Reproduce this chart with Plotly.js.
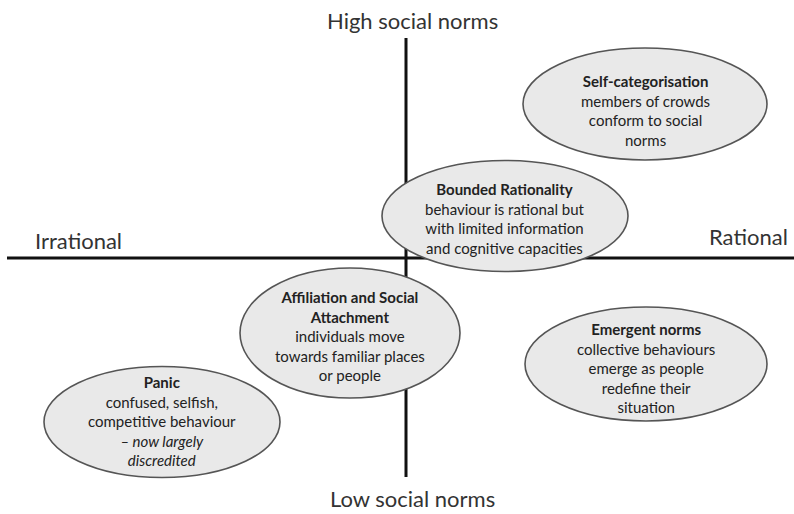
<!DOCTYPE html>
<html>
<head>
<meta charset="utf-8">
<script src="https://cdn.plot.ly/plotly-3.0.1.min.js"></script>
<style>html,body{margin:0;padding:0;background:#fff;}#chart{width:794px;height:514px;}</style>
</head>
<body>
<div id="chart"></div>
<script>
// ---- data ----
const conceptTitles = ["Self-categorisation", "Bounded Rationality", "Affiliation and Social<br>Attachment", "Emergent norms", "Panic"];
const conceptDescriptions = [
  "members of crowds<br>conform to social<br>norms",
  "behaviour is rational but<br>with limited information<br>and cognitive capacities",
  "individuals move<br>towards familiar places<br>or people",
  "collective behaviours<br>emerge as people<br>redefine their<br>situation",
  "confused, selfish,<br>competitive behaviour<br><i>– now largely<br>discredited</i>"
];
const rationality = [0.5975, 0.2475, -0.14, 0.60, -0.61];   // x: irrational (-) to rational (+)
const socialNorms = [0.616, 0.168, -0.30, -0.424, -0.656];  // y: low (-) to high (+)
const axisLabels = {top: "High social norms", bottom: "Low social norms", left: "Irrational", right: "Rational"};

// ---- styling / geometry ----
const radiiX = [0.305, 0.3075, 0.275, 0.3025, 0.295];
const radiiY = [0.224, 0.222, 0.26, 0.228, 0.222];
const textShiftPx = [-6, -2, -3, -4, 1];
const FONT = "Lato, 'Open Sans', sans-serif";

const shapes = [
  {type: "line", xref: "x", yref: "y", x0: -0.9975, x1: 0.97, y0: 0, y1: 0, line: {color: "#111", width: 3}},
  {type: "line", xref: "x", yref: "y", x0: 0, x1: 0, y0: 0.88, y1: -0.876, line: {color: "#111", width: 3}}
];
const annotations = [];
conceptTitles.forEach((t, i) => {
  shapes.push({
    type: "circle", xref: "x", yref: "y",
    x0: rationality[i] - radiiX[i], x1: rationality[i] + radiiX[i],
    y0: socialNorms[i] - radiiY[i], y1: socialNorms[i] + radiiY[i],
    fillcolor: "#e9e9e9", line: {color: "#555", width: 1.6}
  });
  annotations.push({
    x: rationality[i], y: socialNorms[i], xref: "x", yref: "y",
    text: "<b>" + t + "</b><br>" + conceptDescriptions[i],
    showarrow: false, align: "center", yshift: textShiftPx[i],
    font: {family: FONT, size: 15, color: "#222"}
  });
});
const labelFont = {family: FONT, size: 22, color: "#333"};
annotations.push({x: 0.015, y: 0.952, xref: "x", yref: "y", text: axisLabels.top, showarrow: false, font: labelFont});
annotations.push({x: 0.015, y: -0.962, xref: "x", yref: "y", text: axisLabels.bottom, showarrow: false, font: labelFont});
annotations.push({x: -0.82, y: 0.072, xref: "x", yref: "y", text: axisLabels.left, showarrow: false, font: labelFont});
annotations.push({x: 0.855, y: 0.088, xref: "x", yref: "y", text: axisLabels.right, showarrow: false, font: labelFont});

const layout = {
  width: 794, height: 514,
  margin: {l: 0, r: 0, t: 0, b: 0},
  paper_bgcolor: "#fff", plot_bgcolor: "#fff",
  xaxis: {range: [-1.015, 0.97], visible: false, fixedrange: true},
  yaxis: {range: [-1.024, 1.032], visible: false, fixedrange: true},
  showlegend: false,
  shapes: shapes,
  annotations: annotations
};
Plotly.newPlot("chart", [], layout, {displayModeBar: false, staticPlot: true});
</script>
</body>
</html>
